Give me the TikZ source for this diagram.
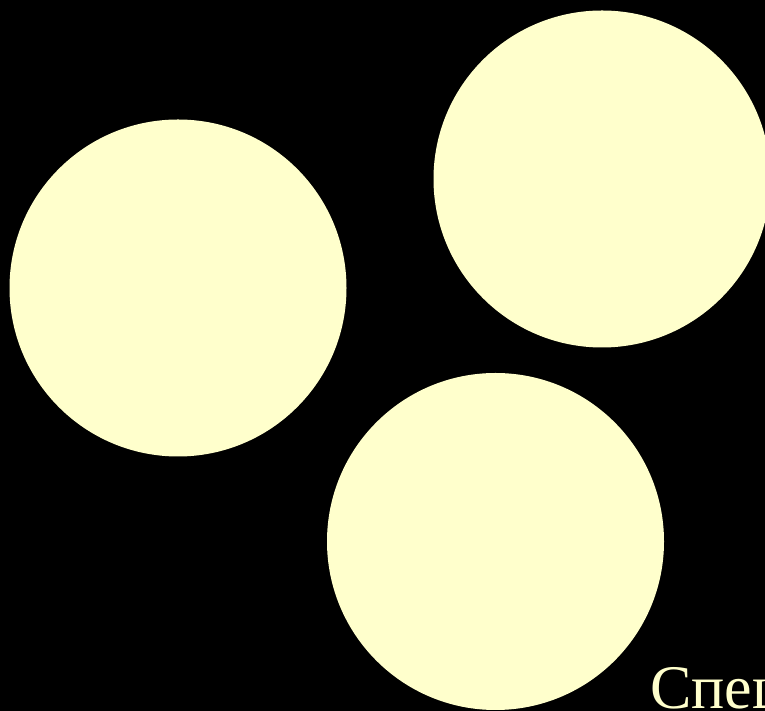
\documentclass[tikz,border=0pt]{standalone}
\usepackage{fontspec}
\setmainfont{Liberation Serif}
\definecolor{paleyellow}{HTML}{FFFFCC}

\begin{document}
\begin{tikzpicture}[
            x=1pt, y=1pt,
            disc/.style={circle, fill=paleyellow, draw=none, inner sep=0pt, minimum size=337pt},
            caption/.style={anchor=base west, inner sep=0pt, color=paleyellow, font=\fontsize{62}{70}\selectfont}
        ]
            % page
            \clip (0, 0) rectangle (765, 711);
            \fill[black] (0, 0) rectangle (765, 711);

            % discs
            \node[disc] (left) at (178, 423) {};
            \node[disc] (top) at (602, 532) {};
            \node[disc] (bottom) at (495.5, 169.5) {};

            % text (cut off at the corner)
            \node[caption] (label) at (650, 2) {Спец};

        \end{tikzpicture}
\end{document}
